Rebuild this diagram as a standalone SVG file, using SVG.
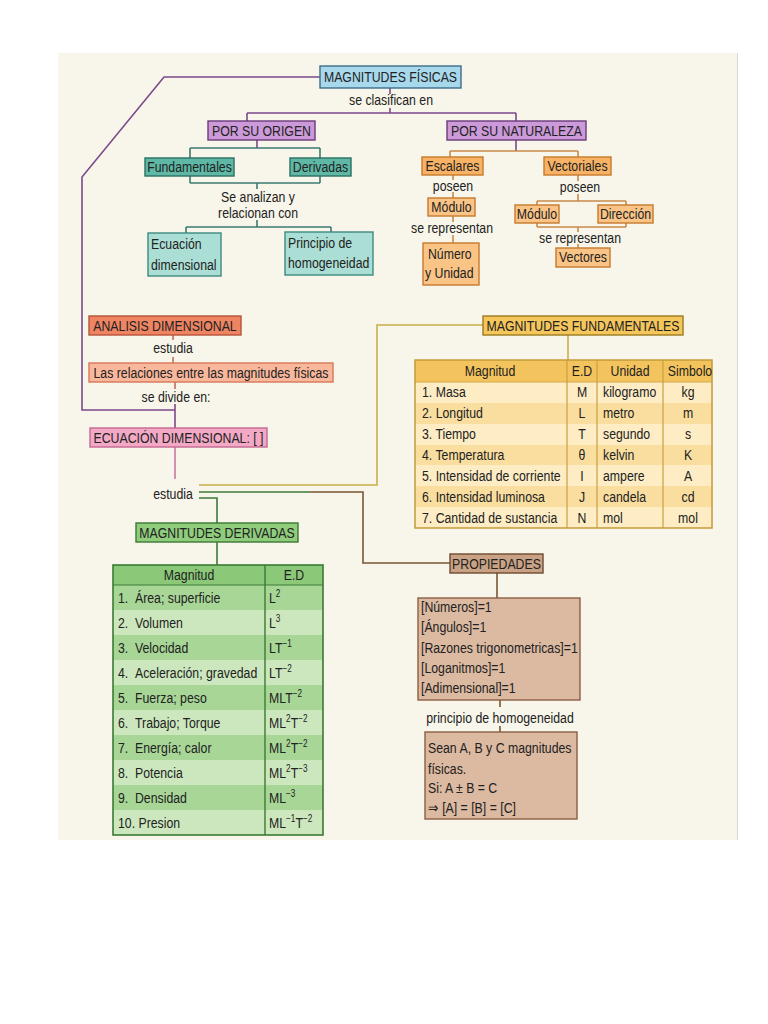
<svg xmlns="http://www.w3.org/2000/svg" width="768" height="1024" viewBox="0 0 768 1024">
<style>
text{font-family:"Liberation Sans",Arial,sans-serif;font-size:15px;fill:#222}
.c{text-anchor:middle}
.sup{font-size:10px}
.ln{fill:none;stroke-width:1.6}
.pur{stroke:#7a4a8a}.teal{stroke:#3c7a72}.org{stroke:#c98a4a}.red{stroke:#c0705a}.pink{stroke:#c77aa0}
.yel{stroke:#c9b04a}.grn{stroke:#3e7a3a}.brn{stroke:#7a5535}
.bx{stroke-width:1.4}
.blue{fill:#a8d8ec;stroke:#3c6e8c}
.purb{fill:#cc9ad8;stroke:#6a3a7a}
.tealD{fill:#5eb8a5;stroke:#2b6f62}
.tealL{fill:#abded4;stroke:#3c8a80}
.orgb{fill:#f7b266;stroke:#c77a2c}
.orgL{fill:#f9c486;stroke:#c77a2c}
.anal{fill:#ef8462;stroke:#b5533a}
.rel{fill:#f9b79c;stroke:#d7775a}
.ecu{fill:#f3a8c5;stroke:#c36892}
.fund{fill:#f5c65c;stroke:#9a7b1e}
.der{fill:#8fcc7c;stroke:#3b7a34}
.prop{fill:#c9a285;stroke:#6e4a30}
.propL{fill:#dcb9a1;stroke:#8a5f45}
</style>
<rect x="0" y="0" width="768" height="1024" fill="#ffffff"/>
<rect x="58" y="53" width="679" height="787" fill="#f8f6ea"/>
<line x1="737.5" y1="53" x2="737.5" y2="840" stroke="#d8d8d4" stroke-width="1"/>

<g id="connectors">
<polyline class="ln pur" points="320,77 164,77 82,177 82,410 175,410"/>
<path class="ln pur" d="M390,88V94M390,108V113M247,113H516M247,113V121M516,113V121"/>
<path class="ln pur" d="M257,140V148"/>
<path class="ln teal" d="M190,148H320M190,148V158M320,148V158M190,176V183M320,176V183M190,183H320M257,183V189M257,220V227M186,227H331M186,227V233M331,227V232"/>
<path class="ln pur" d="M516,140V151"/>
<path class="ln org" d="M450,151H578M450,151V157M578,151V157M453,175V180M453,192V198M453,216V222M453,235V243M578,175V181M578,194V201M537,201H626M537,201V205M626,201V205M537,223V227M626,223V227M537,227H626M578,227V232M578,244V248"/>
<path class="ln red" d="M173,335V340M173,357V363M175,382V389"/>
<path class="ln pur" d="M175,404V428"/>
<path class="ln pink" d="M175,447V479"/>
<polyline class="ln yel" points="199,485 377,485 377,325 483,325"/>
<path class="ln yel" d="M568,335V360"/>
<path class="ln grn" d="M199,492H310"/>
<polyline class="ln brn" points="310,492 363,492 363,563 450,563"/>
<polyline class="ln grn" points="199,498 217,498 217,523"/>
<path class="ln grn" d="M217,542V565"/>
<path class="ln brn" d="M497,573V598M500,700V707M500,726V732"/>
</g>

<g id="n_magnitudes_fisicas"><rect class="bx blue" x="320" y="66" width="141" height="22"/><text class="c" transform="translate(390.5,82) scale(.82,1)">MAGNITUDES FÍSICAS</text></g>
<text class="c" transform="translate(391,105) scale(.82,1)">se clasifican en</text>
<g id="n_por_su_origen"><rect class="bx purb" x="208" y="121" width="107" height="19"/><text class="c" transform="translate(261.5,136) scale(.82,1)">POR SU ORIGEN</text></g>
<g id="n_por_su_naturaleza"><rect class="bx purb" x="447" y="121" width="139" height="19"/><text class="c" transform="translate(516.5,136) scale(.82,1)">POR SU NATURALEZA</text></g>
<g id="n_fundamentales"><rect class="bx tealD" x="145" y="158" width="89" height="18"/><text class="c" transform="translate(189.5,172) scale(.82,1)">Fundamentales</text></g>
<g id="n_derivadas"><rect class="bx tealD" x="290" y="158" width="61" height="18"/><text class="c" transform="translate(320.5,172) scale(.82,1)">Derivadas</text></g>
<text class="c" transform="translate(258,202) scale(.82,1)">Se analizan y</text>
<text class="c" transform="translate(258,218) scale(.82,1)">relacionan con</text>
<g id="n_ecuacion"><rect class="bx tealL" x="148" y="233" width="73" height="43"/><text transform="translate(151,249) scale(.82,1)">Ecuación</text><text transform="translate(151,270) scale(.82,1)">dimensional</text></g>
<g id="n_principio"><rect class="bx tealL" x="285" y="232" width="88" height="43"/><text transform="translate(288,248) scale(.82,1)">Principio de</text><text transform="translate(288,268) scale(.82,1)">homogeneidad</text></g>
<g id="n_escalares"><rect class="bx orgb" x="422" y="157" width="61" height="18"/><text class="c" transform="translate(452.5,171) scale(.82,1)">Escalares</text></g>
<text class="c" transform="translate(453,191) scale(.82,1)">poseen</text>
<g id="n_modulo1"><rect class="bx orgL" x="428" y="198" width="47" height="18"/><text class="c" transform="translate(451.5,212) scale(.82,1)">Módulo</text></g>
<text class="c" transform="translate(452,233) scale(.82,1)">se representan</text>
<g id="n_numero"><rect class="bx orgL" x="423" y="243" width="56" height="42"/><text transform="translate(428,259) scale(.82,1)">Número</text><text transform="translate(425,278) scale(.82,1)">y Unidad</text></g>
<g id="n_vectoriales"><rect class="bx orgb" x="544" y="157" width="67" height="18"/><text class="c" transform="translate(577.5,171) scale(.82,1)">Vectoriales</text></g>
<text class="c" transform="translate(580,192) scale(.82,1)">poseen</text>
<g id="n_modulo2"><rect class="bx orgL" x="515" y="205" width="44" height="18"/><text class="c" transform="translate(537,219) scale(.82,1)">Módulo</text></g>
<g id="n_direccion"><rect class="bx orgL" x="598" y="205" width="55" height="18"/><text class="c" transform="translate(625.5,219) scale(.82,1)">Dirección</text></g>
<text class="c" transform="translate(580,243) scale(.82,1)">se representan</text>
<g id="n_vectores"><rect class="bx orgL" x="556" y="248" width="54" height="19"/><text class="c" transform="translate(583,262) scale(.82,1)">Vectores</text></g>

<g id="n_analisis"><rect class="bx anal" x="89" y="316" width="152" height="19"/><text class="c" transform="translate(165,331) scale(.82,1)">ANALISIS DIMENSIONAL</text></g>
<text class="c" transform="translate(173,353) scale(.82,1)">estudia</text>
<g id="n_relaciones"><rect class="bx rel" x="89" y="363" width="244" height="19"/><text class="c" transform="translate(211,378) scale(.82,1)">Las relaciones entre las magnitudes físicas</text></g>
<text class="c" transform="translate(176,402) scale(.82,1)">se divide en:</text>
<g id="n_ecuacion_dimensional"><rect class="bx ecu" x="90" y="428" width="177" height="19"/><text class="c" transform="translate(178.5,443) scale(.82,1)">ECUACIÓN DIMENSIONAL: [ ]</text></g>
<text class="c" transform="translate(173,499) scale(.82,1)">estudia</text>

<g id="n_magnitudes_fundamentales"><rect class="bx fund" x="483" y="316" width="200" height="19"/><text class="c" transform="translate(583,331) scale(.82,1)">MAGNITUDES FUNDAMENTALES</text></g>
<g id="n_tabla_fundamentales">
<rect x="415" y="360" width="297" height="22" fill="#f3c45e"/>
<rect x="415" y="382" width="297" height="21" fill="#fdecc4"/>
<rect x="415" y="403" width="297" height="21" fill="#f9dea0"/>
<rect x="415" y="424" width="297" height="21" fill="#fdecc4"/>
<rect x="415" y="445" width="297" height="20" fill="#f9dea0"/>
<rect x="415" y="465" width="297" height="21" fill="#fdecc4"/>
<rect x="415" y="486" width="297" height="21" fill="#f9dea0"/>
<rect x="415" y="507" width="297" height="21" fill="#fdecc4"/>
<path d="M415,382H712" stroke="#d4aa48" stroke-width="1"/>
<path d="M567,360V528M597,360V528M663,360V528" stroke="#c9a040" stroke-width="1.2"/>
<rect x="415" y="360" width="297" height="168" fill="none" stroke="#c49a3a" stroke-width="1.5"/>
<text class="c" transform="translate(490,376) scale(.82,1)">Magnitud</text><text class="c" transform="translate(582,376) scale(.82,1)">E.D</text><text class="c" transform="translate(630,376) scale(.82,1)">Unidad</text><text class="c" transform="translate(690,376) scale(.82,1)">Simbolo</text>
<text transform="translate(422,397) scale(.82,1)">1. Masa</text><text class="c" transform="translate(582,397) scale(.82,1)">M</text><text transform="translate(603,397) scale(.82,1)">kilogramo</text><text class="c" transform="translate(688,397) scale(.82,1)">kg</text>
<text transform="translate(422,418) scale(.82,1)">2. Longitud</text><text class="c" transform="translate(582,418) scale(.82,1)">L</text><text transform="translate(603,418) scale(.82,1)">metro</text><text class="c" transform="translate(688,418) scale(.82,1)">m</text>
<text transform="translate(422,439) scale(.82,1)">3. Tiempo</text><text class="c" transform="translate(582,439) scale(.82,1)">T</text><text transform="translate(603,439) scale(.82,1)">segundo</text><text class="c" transform="translate(688,439) scale(.82,1)">s</text>
<text transform="translate(422,460) scale(.82,1)">4. Temperatura</text><text class="c" transform="translate(582,460) scale(.82,1)">θ</text><text transform="translate(603,460) scale(.82,1)">kelvin</text><text class="c" transform="translate(688,460) scale(.82,1)">K</text>
<text transform="translate(422,481) scale(.82,1)">5. Intensidad de corriente</text><text class="c" transform="translate(582,481) scale(.82,1)">I</text><text transform="translate(603,481) scale(.82,1)">ampere</text><text class="c" transform="translate(688,481) scale(.82,1)">A</text>
<text transform="translate(422,502) scale(.82,1)">6. Intensidad luminosa</text><text class="c" transform="translate(582,502) scale(.82,1)">J</text><text transform="translate(603,502) scale(.82,1)">candela</text><text class="c" transform="translate(688,502) scale(.82,1)">cd</text>
<text transform="translate(422,523) scale(.82,1)">7. Cantidad de sustancia</text><text class="c" transform="translate(582,523) scale(.82,1)">N</text><text transform="translate(603,523) scale(.82,1)">mol</text><text class="c" transform="translate(688,523) scale(.82,1)">mol</text>
</g>

<g id="n_magnitudes_derivadas"><rect class="bx der" x="136" y="523" width="162" height="19"/><text class="c" transform="translate(217,538) scale(.82,1)">MAGNITUDES DERIVADAS</text></g>
<g id="n_tabla_derivadas">
<rect x="113" y="565" width="210" height="20" fill="#8bc878"/>
<rect x="113" y="585" width="210" height="25" fill="#a8d697"/>
<rect x="113" y="610" width="210" height="25" fill="#cce7bd"/>
<rect x="113" y="635" width="210" height="25" fill="#a8d697"/>
<rect x="113" y="660" width="210" height="25" fill="#cce7bd"/>
<rect x="113" y="685" width="210" height="25" fill="#a8d697"/>
<rect x="113" y="710" width="210" height="25" fill="#cce7bd"/>
<rect x="113" y="735" width="210" height="25" fill="#a8d697"/>
<rect x="113" y="760" width="210" height="25" fill="#cce7bd"/>
<rect x="113" y="785" width="210" height="25" fill="#a8d697"/>
<rect x="113" y="810" width="210" height="25" fill="#cce7bd"/>
<path d="M113,585H323" stroke="#3a7a35" stroke-width="1"/>
<path d="M265,565V835" stroke="#3a7a35" stroke-width="1.4"/>
<rect x="113" y="565" width="210" height="270" fill="none" stroke="#3a7a35" stroke-width="1.6"/>
<text class="c" transform="translate(189,580) scale(.82,1)">Magnitud</text><text class="c" transform="translate(294,580) scale(.82,1)">E.D</text>
<text transform="translate(118,603) scale(.82,1)">1.</text><text transform="translate(135,603) scale(.82,1)">Área; superficie</text>
<text transform="translate(118,628) scale(.82,1)">2.</text><text transform="translate(135,628) scale(.82,1)">Volumen</text>
<text transform="translate(118,653) scale(.82,1)">3.</text><text transform="translate(135,653) scale(.82,1)">Velocidad</text>
<text transform="translate(118,678) scale(.82,1)">4.</text><text transform="translate(135,678) scale(.82,1)">Aceleración; gravedad</text>
<text transform="translate(118,703) scale(.82,1)">5.</text><text transform="translate(135,703) scale(.82,1)">Fuerza; peso</text>
<text transform="translate(118,728) scale(.82,1)">6.</text><text transform="translate(135,728) scale(.82,1)">Trabajo; Torque</text>
<text transform="translate(118,753) scale(.82,1)">7.</text><text transform="translate(135,753) scale(.82,1)">Energía; calor</text>
<text transform="translate(118,778) scale(.82,1)">8.</text><text transform="translate(135,778) scale(.82,1)">Potencia</text>
<text transform="translate(118,803) scale(.82,1)">9.</text><text transform="translate(135,803) scale(.82,1)">Densidad</text>
<text transform="translate(118,828) scale(.82,1)">10. Presion</text>
<text transform="translate(269,603) scale(.82,1)">L<tspan class="sup" dy="-6">2</tspan></text>
<text transform="translate(269,628) scale(.82,1)">L<tspan class="sup" dy="-6">3</tspan></text>
<text transform="translate(269,653) scale(.82,1)">LT<tspan class="sup" dy="-6">−1</tspan></text>
<text transform="translate(269,678) scale(.82,1)">LT<tspan class="sup" dy="-6">−2</tspan></text>
<text transform="translate(269,703) scale(.82,1)">MLT<tspan class="sup" dy="-6">−2</tspan></text>
<text transform="translate(269,728) scale(.82,1)">ML<tspan class="sup" dy="-6">2</tspan><tspan dy="6">T</tspan><tspan class="sup" dy="-6">−2</tspan></text>
<text transform="translate(269,753) scale(.82,1)">ML<tspan class="sup" dy="-6">2</tspan><tspan dy="6">T</tspan><tspan class="sup" dy="-6">−2</tspan></text>
<text transform="translate(269,778) scale(.82,1)">ML<tspan class="sup" dy="-6">2</tspan><tspan dy="6">T</tspan><tspan class="sup" dy="-6">−3</tspan></text>
<text transform="translate(269,803) scale(.82,1)">ML<tspan class="sup" dy="-6">−3</tspan></text>
<text transform="translate(269,828) scale(.82,1)">ML<tspan class="sup" dy="-6">−1</tspan><tspan dy="6">T</tspan><tspan class="sup" dy="-6">−2</tspan></text>
</g>

<g id="n_propiedades"><rect class="bx prop" x="450" y="554" width="93" height="19"/><text class="c" transform="translate(496.5,569) scale(.82,1)">PROPIEDADES</text></g>
<g id="n_lista_propiedades"><rect class="bx propL" x="418" y="598" width="162" height="102"/>
<text transform="translate(421,612) scale(.82,1)">[Números]=1</text>
<text transform="translate(421,632) scale(.82,1)">[Ángulos]=1</text>
<text transform="translate(421,653) scale(.82,1)">[Razones trigonometricas]=1</text>
<text transform="translate(421,673) scale(.82,1)">[Loganitmos]=1</text>
<text transform="translate(421,693) scale(.82,1)">[Adimensional]=1</text></g>
<text class="c" transform="translate(500,723) scale(.82,1)">principio de homogeneidad</text>
<g id="n_principio_homogeneidad"><rect class="bx propL" x="425" y="732" width="152" height="87"/>
<text transform="translate(428,753) scale(.82,1)">Sean A, B y C magnitudes</text>
<text transform="translate(428,774) scale(.82,1)">físicas.</text>
<text transform="translate(428,793) scale(.82,1)">Si: A ± B = C</text>
<text transform="translate(428,813) scale(.82,1)">⇒ [A] = [B] = [C]</text></g>
</svg>
